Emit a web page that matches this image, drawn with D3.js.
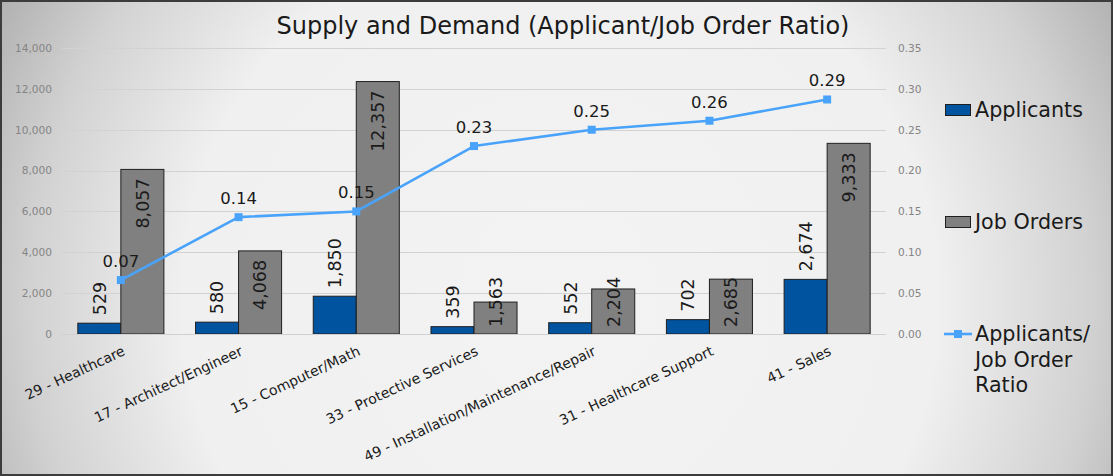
<!DOCTYPE html>
<html>
<head>
<meta charset="utf-8">
<script src="https://cdn.jsdelivr.net/npm/d3@7"></script>
<style>
  html, body { margin: 0; padding: 0; background: #ffffff; }
  svg { display: block; font-family: "DejaVu Sans", sans-serif; }
</style>
</head>
<body>
<svg id="chart" width="1113" height="476"></svg>
<script>
// ---------- data ----------
const categories = [
  "29 - Healthcare",
  "17 - Architect/Engineer",
  "15 - Computer/Math",
  "33 - Protective Services",
  "49 - Installation/Maintenance/Repair",
  "31 - Healthcare Support",
  "41 - Sales"
];
const applicants = [529, 580, 1850, 359, 552, 702, 2674];
const jobOrders = [8057, 4068, 12357, 1563, 2204, 2685, 9333];
const ratio = [0.066, 0.143, 0.150, 0.230, 0.250, 0.261, 0.287];
const leftTicks = [0, 2000, 4000, 6000, 8000, 10000, 12000, 14000];
const rightTicks = [0, 0.05, 0.10, 0.15, 0.20, 0.25, 0.30, 0.35];
const seriesNames = ["Applicants", "Job Orders", "Applicants/ Job Order Ratio"];
const titleText = "Supply and Demand (Applicant/Job Order Ratio)";

// ---------- layout ----------
const W = 1113, H = 476;
const plot = { left: 62, right: 886, top: 48, bottom: 334 };
const colors = { app: "#00539f", job: "#808080", line: "#4aa3fa", edge: "#1f1f1f" };

const svg = d3.select("#chart");
const defs = svg.append("defs");
const grad = defs.append("radialGradient").attr("id", "bg")
  .attr("gradientUnits", "userSpaceOnUse")
  .attr("cx", 560).attr("cy", 300).attr("r", 630);
grad.append("stop").attr("offset", "0").attr("stop-color", "#f3f3f3");
grad.append("stop").attr("offset", "0.6").attr("stop-color", "#f0f0f0");
grad.append("stop").attr("offset", "0.84").attr("stop-color", "#d2d2d2");
grad.append("stop").attr("offset", "1").attr("stop-color", "#b2b2b2");

svg.append("rect").attr("width", W).attr("height", H).attr("fill", "url(#bg)");

const x = d3.scaleBand().domain(categories).range([plot.left, plot.right]).padding(0);
const xs = d3.scaleBand().domain(["app", "job"]).range([0, x.bandwidth()])
  .paddingInner(0).paddingOuter(0.368);
const yL = d3.scaleLinear().domain([0, 14000]).range([plot.bottom, plot.top]);
const yR = d3.scaleLinear().domain([0, 0.35]).range([plot.bottom, plot.top]);

// gridlines
svg.append("g").selectAll("line").data(leftTicks).join("line")
  .attr("x1", plot.left).attr("x2", plot.right)
  .attr("y1", d => Math.round(yL(d)) + 0.5).attr("y2", d => Math.round(yL(d)) + 0.5)
  .attr("stroke", "#d2d2d2").attr("stroke-width", 1.2);

// left axis
const gL = svg.append("g").attr("transform", `translate(${plot.left},0)`)
  .call(d3.axisLeft(yL).tickValues(leftTicks).tickSize(0).tickPadding(10).tickFormat(d3.format(",")));
gL.select(".domain").remove();
gL.selectAll("text").attr("fill", "#858585").attr("font-size", 10.6)
  .attr("font-family", "DejaVu Sans, sans-serif");

// right axis
const gR = svg.append("g").attr("transform", `translate(${plot.right},0)`)
  .call(d3.axisRight(yR).tickValues(rightTicks).tickSize(0).tickPadding(12).tickFormat(d3.format(".2f")));
gR.select(".domain").remove();
gR.selectAll("text").attr("fill", "#858585").attr("font-size", 10.6)
  .attr("font-family", "DejaVu Sans, sans-serif");

// bars
const barG = svg.append("g");
barG.selectAll("rect.app").data(categories).join("rect").attr("class", "app")
  .attr("x", d => x(d) + xs("app"))
  .attr("y", (d, i) => yL(applicants[i]))
  .attr("width", xs.bandwidth())
  .attr("height", (d, i) => yL(0) - yL(applicants[i]))
  .attr("fill", colors.app).attr("stroke", colors.edge).attr("stroke-width", 1);
barG.selectAll("rect.job").data(categories).join("rect").attr("class", "job")
  .attr("x", d => x(d) + xs("job"))
  .attr("y", (d, i) => yL(jobOrders[i]))
  .attr("width", xs.bandwidth())
  .attr("height", (d, i) => yL(0) - yL(jobOrders[i]))
  .attr("fill", colors.job).attr("stroke", colors.edge).attr("stroke-width", 1);

// x axis baseline
svg.append("line").attr("x1", plot.left).attr("x2", plot.right)
  .attr("y1", plot.bottom + 0.5).attr("y2", plot.bottom + 0.5)
  .attr("stroke", "#d0d0d0").attr("stroke-width", 1.2);

// x axis labels
const gX = svg.append("g").attr("transform", `translate(0,${plot.bottom})`)
  .call(d3.axisBottom(x).tickSize(0));
gX.select(".domain").remove();
gX.selectAll("text")
  .attr("y", 0).attr("x", 0).attr("dy", "0.35em")
  .attr("text-anchor", "end")
  .attr("transform", "translate(3,16) rotate(-25)")
  .attr("fill", "#1a1a1a").attr("font-size", 14)
  .attr("font-family", "DejaVu Sans, sans-serif");

// bar labels
const fmt = d3.format(",");
const lblG = svg.append("g").attr("font-size", 17.5).attr("fill", "#1a1a1a");
lblG.selectAll("text.app").data(categories).join("text").attr("class", "app")
  .attr("transform", (d, i) => `translate(${x(d) + xs("app") + xs.bandwidth() / 2},${yL(applicants[i]) - 8}) rotate(-90)`)
  .attr("dy", "0.36em").attr("text-anchor", "start")
  .text((d, i) => fmt(applicants[i]));
lblG.selectAll("text.job").data(categories).join("text").attr("class", "job")
  .text((d, i) => fmt(jobOrders[i]))
  .attr("dy", "0.36em").attr("text-anchor", "end")
  .attr("transform", function (d, i) {
    const len = this.getComputedTextLength();
    const top = Math.min(yL(jobOrders[i]) + 9, plot.bottom - 7 - len);
    return `translate(${x(d) + xs("job") + xs.bandwidth() / 2},${top}) rotate(-90)`;
  });

// ratio line
const cx = d => x(d) + x.bandwidth() / 2;
const line = d3.line().x((d, i) => cx(categories[i])).y(d => yR(d));
svg.append("path").datum(ratio).attr("d", line)
  .attr("fill", "none").attr("stroke", colors.line).attr("stroke-width", 2.6)
  .attr("stroke-linejoin", "round");
svg.append("g").selectAll("rect").data(ratio).join("rect")
  .attr("x", (d, i) => cx(categories[i]) - 4).attr("y", d => yR(d) - 4)
  .attr("width", 8).attr("height", 8).attr("fill", colors.line);
svg.append("g").attr("font-size", 16.5).attr("fill", "#1a1a1a")
  .selectAll("text").data(ratio).join("text")
  .attr("x", (d, i) => cx(categories[i])).attr("y", d => yR(d) - 13)
  .attr("text-anchor", "middle")
  .text(d => d3.format(".2f")(d));

// title
const title = svg.append("text").attr("x", 563).attr("y", 34)
  .attr("text-anchor", "middle").attr("font-size", 22).attr("fill", "#1a1a1a")
  .text(titleText);
{
  const len = title.node().getComputedTextLength();
  title.attr("font-size", 22 * 573 / len);
}

// legend
const lg = svg.append("g").attr("font-size", 20.7).attr("fill", "#1a1a1a");
lg.append("rect").attr("x", 945.5).attr("y", 104.5).attr("width", 25).attr("height", 11)
  .attr("fill", colors.app).attr("stroke", colors.edge);
lg.append("text").attr("x", 975).attr("y", 117).text(seriesNames[0]);
lg.append("rect").attr("x", 945.5).attr("y", 216.5).attr("width", 25).attr("height", 11)
  .attr("fill", colors.job).attr("stroke", colors.edge);
lg.append("text").attr("x", 975).attr("y", 229).text(seriesNames[1]);
lg.append("line").attr("x1", 944).attr("x2", 972).attr("y1", 334).attr("y2", 334)
  .attr("stroke", colors.line).attr("stroke-width", 2.6);
lg.append("rect").attr("x", 954).attr("y", 330).attr("width", 8).attr("height", 8).attr("fill", colors.line);
const lt = lg.append("text").attr("x", 975).attr("y", 341);
["Applicants/", "Job Order", "Ratio"].forEach((s, i) => {
  lt.append("tspan").attr("x", 975).attr("y", 341 + i * 25.5).text(s);
});

// frame
svg.append("rect").attr("x", 0.5).attr("y", 0.5).attr("width", W - 1).attr("height", H - 1)
  .attr("fill", "none").attr("stroke", "#3c3c3c").attr("stroke-width", 3);
</script>
</body>
</html>
